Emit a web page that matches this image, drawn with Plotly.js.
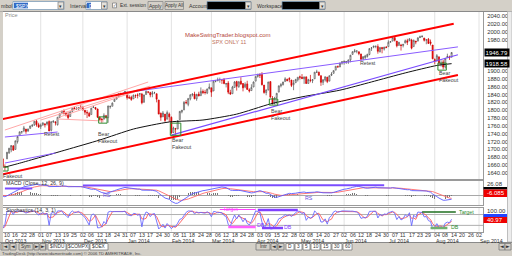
<!DOCTYPE html>
<html><head><meta charset="utf-8">
<script src="https://cdn.plot.ly/plotly-3.0.1.min.js"></script>
<style>html,body{margin:0;padding:0;background:#fff;overflow:hidden}#c{width:512px;height:256px}</style>
</head><body><div id="c"></div><script>
// ---------- DATA ----------
const dates = [
'2013-10-07','2013-10-08','2013-10-09','2013-10-10','2013-10-11','2013-10-14','2013-10-15','2013-10-16','2013-10-17','2013-10-18','2013-10-21','2013-10-22','2013-10-23','2013-10-24','2013-10-25','2013-10-28','2013-10-29','2013-10-30','2013-10-31',
'2013-11-01','2013-11-04','2013-11-05','2013-11-06','2013-11-07','2013-11-08','2013-11-11','2013-11-12','2013-11-13','2013-11-14','2013-11-15','2013-11-18','2013-11-19','2013-11-20','2013-11-21','2013-11-22','2013-11-25','2013-11-26','2013-11-27','2013-11-29',
'2013-12-02','2013-12-03','2013-12-04','2013-12-05','2013-12-06','2013-12-09','2013-12-10','2013-12-11','2013-12-12','2013-12-13','2013-12-16','2013-12-17','2013-12-18','2013-12-19','2013-12-20','2013-12-23','2013-12-24','2013-12-26','2013-12-27','2013-12-30','2013-12-31',
'2014-01-02','2014-01-03','2014-01-06','2014-01-07','2014-01-08','2014-01-09','2014-01-10','2014-01-13','2014-01-14','2014-01-15','2014-01-16','2014-01-17','2014-01-21','2014-01-22','2014-01-23','2014-01-24','2014-01-27','2014-01-28','2014-01-29','2014-01-30','2014-01-31',
'2014-02-03','2014-02-04','2014-02-05','2014-02-06','2014-02-07','2014-02-10','2014-02-11','2014-02-12','2014-02-13','2014-02-14','2014-02-18','2014-02-19','2014-02-20','2014-02-21','2014-02-24','2014-02-25','2014-02-26','2014-02-27','2014-02-28',
'2014-03-03','2014-03-04','2014-03-05','2014-03-06','2014-03-07','2014-03-10','2014-03-11','2014-03-12','2014-03-13','2014-03-14','2014-03-17','2014-03-18','2014-03-19','2014-03-20','2014-03-21','2014-03-24','2014-03-25','2014-03-26','2014-03-27','2014-03-28','2014-03-31',
'2014-04-01','2014-04-02','2014-04-03','2014-04-04','2014-04-07','2014-04-08','2014-04-09','2014-04-10','2014-04-11','2014-04-14','2014-04-15','2014-04-16','2014-04-17','2014-04-21','2014-04-22','2014-04-23','2014-04-24','2014-04-25','2014-04-28','2014-04-29','2014-04-30',
'2014-05-01','2014-05-02','2014-05-05','2014-05-06','2014-05-07','2014-05-08','2014-05-09','2014-05-12','2014-05-13','2014-05-14','2014-05-15','2014-05-16','2014-05-19','2014-05-20','2014-05-21','2014-05-22','2014-05-23','2014-05-27','2014-05-28','2014-05-29','2014-05-30',
'2014-06-02','2014-06-03','2014-06-04','2014-06-05','2014-06-06','2014-06-09','2014-06-10','2014-06-11','2014-06-12','2014-06-13','2014-06-16','2014-06-17','2014-06-18','2014-06-19','2014-06-20','2014-06-23','2014-06-24','2014-06-25','2014-06-26','2014-06-27','2014-06-30',
'2014-07-01','2014-07-02','2014-07-03','2014-07-07','2014-07-08','2014-07-09','2014-07-10','2014-07-11','2014-07-14','2014-07-15','2014-07-16','2014-07-17','2014-07-18','2014-07-21','2014-07-22','2014-07-23','2014-07-24','2014-07-25','2014-07-28','2014-07-29','2014-07-30','2014-07-31',
'2014-08-01','2014-08-04','2014-08-05','2014-08-06','2014-08-07','2014-08-08','2014-08-11','2014-08-12','2014-08-13',
'2014-08-14','2014-08-15','2014-08-18','2014-08-19','2014-08-20','2014-08-21','2014-08-22','2014-08-25','2014-08-26','2014-08-27','2014-08-28','2014-08-29','2014-09-02','2014-09-03','2014-09-04','2014-09-05'
];
const open = [
1687,1676,1656,1676,1691,1699,1709,1700,1720,1736,1745,1748,1752,1747,1754,1760,1763,1772,1763,
1758,1763,1765,1765,1771,1749,1770,1770,1763,1782,1791,1799,1792,1790,1784,1797,1806,1803,1803,1808,
1806,1800,1794,1792,1789,1807,1807,1803,1782,1777,1777,1786,1781,1809,1810,1822,1828,1834,1843,1841,1842,
1846,1833,1833,1829,1838,1839,1841,1841,1820,1840,1847,1845,1841,1845,1842,1826,1792,1783,1790,1777,1790,
1782,1743,1753,1752,1776,1796,1801,1820,1815,1829,1839,1841,1829,1841,1837,1848,1846,1844,1855,
1857,1849,1874,1875,1878,1877,1878,1866,1869,1845,1842,1858,1873,1860,1874,1868,1859,1867,1852,1850,1859,
1874,1886,1891,1891,1864,1845,1852,1873,1830,1818,1832,1846,1862,1865,1873,1879,1881,1877,1865,1870,1877,
1885,1884,1880,1885,1868,1877,1875,1880,1897,1897,1888,1871,1877,1884,1874,1889,1894,1902,1911,1910,1920,
1924,1923,1923,1928,1942,1949,1951,1949,1943,1931,1934,1937,1942,1958,1961,1963,1962,1949,1960,1956,1961,
1962,1973,1976,1985,1976,1965,1966,1965,1971,1977,1977,1979,1962,1976,1976,1985,1988,1984,1979,1981,1974,1966,
1929,1926,1936,1917,1923,1910,1934,1936,1935];
const high = [
1687,1676,1662,1693,1704,1711,1711,1722,1734,1745,1747,1760,1752,1753,1760,1764,1772,1775,1768,
1766,1768,1767,1771,1774,1771,1774,1772,1782,1791,1798,1802,1796,1795,1797,1805,1808,1808,1808,1814,
1811,1800,1800,1796,1806,1811,1808,1804,1783,1780,1792,1788,1811,1811,1820,1830,1834,1843,1844,1843,1849,
1846,1838,1837,1840,1840,1843,1843,1844,1839,1850,1847,1847,1849,1847,1842,1826,1794,1798,1790,1799,1794,
1784,1758,1755,1774,1798,1800,1823,1826,1830,1841,1843,1847,1842,1847,1858,1853,1852,1855,1868,
1857,1876,1877,1883,1883,1878,1882,1868,1874,1852,1862,1874,1875,1874,1884,1869,1871,1875,1856,1866,1873,
1886,1893,1894,1897,1864,1852,1872,1873,1836,1834,1844,1863,1869,1872,1884,1880,1884,1877,1877,1880,1884,
1888,1892,1885,1885,1880,1890,1879,1897,1903,1898,1888,1878,1886,1885,1888,1897,1901,1912,1914,1921,1924,
1925,1925,1929,1941,1950,1956,1951,1949,1944,1938,1941,1944,1958,1960,1964,1963,1968,1960,1960,1961,1963,
1978,1976,1986,1985,1976,1974,1969,1968,1980,1982,1983,1982,1980,1976,1986,1990,1991,1984,1981,1984,1980,1966,
1932,1943,1936,1927,1928,1932,1944,1939,1948];
const low = [
1675,1655,1646,1676,1689,1693,1697,1700,1715,1735,1740,1744,1740,1745,1752,1757,1760,1758,1755,
1752,1760,1756,1761,1747,1746,1768,1761,1761,1780,1790,1789,1784,1777,1783,1795,1800,1801,1801,1805,
1799,1788,1780,1783,1789,1806,1801,1780,1773,1768,1777,1779,1768,1804,1810,1822,1828,1834,1838,1838,1842,
1827,1829,1824,1829,1831,1830,1834,1815,1820,1840,1843,1833,1833,1841,1820,1790,1773,1783,1770,1777,1770,
1740,1743,1737,1752,1776,1792,1800,1815,1810,1825,1835,1828,1824,1836,1837,1841,1840,1841,1853,
1834,1849,1871,1874,1870,1867,1866,1858,1841,1839,1842,1858,1850,1857,1864,1848,1856,1852,1845,1850,1859,
1874,1883,1882,1863,1842,1838,1850,1833,1815,1815,1816,1846,1858,1863,1873,1874,1871,1859,1851,1870,1873,
1878,1879,1867,1867,1868,1871,1869,1880,1895,1888,1862,1864,1873,1869,1874,1887,1893,1902,1909,1910,1916,
1916,1918,1918,1922,1942,1947,1945,1940,1926,1927,1930,1934,1940,1951,1958,1958,1944,1947,1945,1952,1958,
1962,1972,1976,1975,1960,1965,1952,1960,1971,1966,1976,1955,1962,1968,1976,1984,1985,1975,1968,1969,1965,1930,
1917,1924,1914,1911,1904,1906,1934,1928,1935];
const close = [
1676,1656,1656,1693,1703,1710,1698,1722,1733,1745,1745,1755,1746,1752,1760,1762,1772,1763,1757,
1762,1768,1763,1770,1747,1771,1772,1768,1782,1791,1798,1792,1788,1781,1796,1805,1802,1803,1807,1806,
1801,1795,1793,1785,1805,1808,1803,1782,1776,1775,1787,1781,1811,1810,1818,1828,1833,1842,1841,1841,1848,
1832,1831,1827,1838,1837,1838,1842,1819,1839,1848,1846,1839,1844,1845,1828,1790,1782,1793,1774,1794,1783,
1742,1755,1752,1773,1797,1800,1820,1819,1830,1839,1841,1829,1840,1836,1848,1845,1845,1854,1859,
1846,1874,1874,1877,1878,1877,1868,1868,1846,1841,1859,1872,1861,1872,1867,1857,1866,1853,1849,1858,1872,
1886,1891,1889,1865,1845,1852,1872,1833,1816,1831,1843,1862,1865,1872,1880,1875,1879,1863,1869,1878,1884,
1884,1881,1885,1868,1878,1876,1878,1897,1897,1889,1871,1878,1885,1873,1888,1892,1901,1912,1910,1920,1924,
1925,1924,1928,1940,1949,1951,1951,1944,1930,1936,1938,1942,1957,1959,1963,1963,1950,1960,1957,1961,1960,
1973,1975,1985,1978,1964,1973,1965,1968,1977,1973,1982,1958,1978,1974,1984,1987,1988,1978,1979,1970,1970,1931,
1925,1939,1920,1920,1910,1932,1937,1934,1947];
// moving average (black line)
const maDates = ['2013-10-09','2013-10-18','2013-11-19','2013-12-12','2014-01-07','2014-01-31','2014-02-25','2014-03-19','2014-04-10','2014-05-02','2014-05-29','2014-06-19','2014-07-14','2014-08-04','2014-08-13'];
const maValues = [1655,1665,1699,1724,1752,1770,1775,1790,1816,1834,1851,1872,1895,1914,1918.58];
// drawn trend lines: [date0, price0, date1, price1]
const redTop = ['2013-10-08',1777.5,'2014-08-14',2020];
const redBottom = ['2013-10-07',1635.3,'2014-08-18',1889.7];
const purpleTop = ['2013-12-30',1843.8,'2014-08-18',1961.3];
const purpleBottom = ['2014-02-03',1736.3,'2014-08-18',1941.2];
const purpleLow1 = ['2013-10-09',1665.4,'2013-11-12',1691];
const purpleLow2 = ['2013-10-09',1731.7,'2013-11-13',1744.4];
const pinkA = ['2013-10-09',1749.5,'2014-01-16',1871.8];
const pinkB = ['2013-11-01',1775,'2014-01-17',1861.6];
const pinkC = ['2013-11-14',1782.7,'2014-01-15',1856.5];
const pinkD = ['2013-11-13',1777.6,'2013-12-16',1772.5];
// green boxes: [date0, date1, low, high]
const box1 = ['2013-10-08','2013-10-10',1645,1655];
const box2 = ['2013-12-12','2013-12-17',1767,1783];
const box3 = ['2014-02-03','2014-02-07',1736,1767];
const box4 = ['2014-04-10','2014-04-15',1813,1828.5];
const box5 = ['2014-08-05','2014-08-08',1902,1920];
// labels: [date, price]
const bearLabels = [['2013-12-11',1749],['2014-02-03',1733],['2014-04-10',1807],['2014-08-05',1904]];
const retestLabels = [['2013-11-04',1739],['2014-06-11',1920]];
// indicator drawings: [date0, value0, date1, value1]
const macdMarkA = ['2013-10-09',14.4,'2013-10-28',14.4];
const macdMarkB = ['2013-12-02',20.6,'2014-06-27',21.2];
const rsLabels = [['2013-12-13',0.8],['2014-05-05',-4.4]];
const stMagentaTop = ['2014-03-07',108,'2014-04-01',108];
const stMagentaLow = ['2014-03-13',11,'2014-04-01',11];
const stPurpleTop = ['2014-04-02',105.6,'2014-04-30',105.6];
const stPurpleLow = ['2014-04-04',5.6,'2014-04-21',5.6];
const stGreenTop = ['2014-07-24',94.4,'2014-08-15',94.4];
const stGreenLow = ['2014-07-30',5.6,'2014-08-11',5.6];
// axis / value labels
const priceTicks = [1640,1660,1680,1700,1720,1740,1760,1780,1800,1820,1840,1860,1880,1900,1980,2000,2020,2040];
const lastPrice = 1946.79, maLast = 1918.58;
const macdTop = '26.08', macdLast = '-6.085', stochTop = '100.00', stochLast = '40.97';
const monthNames = ['Jan','Feb','Mar','Apr','May','Jun','Jul','Aug','Sep','Oct','Nov','Dec'];

// ---------- BUILD ----------
const F = 'Liberation Sans, Arial, sans-serif';
const idx = d => dates.indexOf(d);
const xs = close.map((_, i) => i);
const i0 = idx('2013-10-10');
const xr = [i0 - 1.9, i0 + 225.9];

// MACD(12,26,9) and Stochastics(14,3,1) from the close data
function ema(arr, p){const k=2/(p+1);const o=[];arr.forEach((v,i)=>o.push(i?o[i-1]+k*(v-o[i-1]):v));return o;}
const e12=ema(close,12), e26=ema(close,26);
const macd=close.map((_,i)=>e12[i]-e26[i]);
const sig=ema(macd,9);
const hist=macd.map((v,i)=>v-sig[i]);
const rawK=close.map((c,i)=>{const a=Math.max(0,i-13);const hh=Math.max(...high.slice(a,i+1));const ll=Math.min(...low.slice(a,i+1));return hh>ll?(c-ll)/(hh-ll)*100:50;});
const stD=rawK.map((_,i)=>{const a=Math.max(0,i-2);const s=rawK.slice(a,i+1);return s.reduce((p,q)=>p+q,0)/s.length;});

const W=512,H=256;
const px=x=>x/W, py=y=>1-y/H;
const shapes=[], ann=[];
function rect(x0,y0,x1,y1,fill,line){shapes.push({type:'rect',xref:'paper',yref:'paper',x0:px(x0),x1:px(x1),y0:py(y1),y1:py(y0),fillcolor:fill,line:{color:line||fill,width:line?0.8:0},layer:'above'});}
function hline(x0,x1,y,color){shapes.push({type:'line',xref:'paper',yref:'paper',x0:px(x0),x1:px(x1),y0:py(y),y1:py(y),line:{color,width:1},layer:'above'});}
function txt(x,y,s,o){o=o||{};ann.push({xref:'paper',yref:'paper',x:px(x),y:py(y),text:s,showarrow:false,xanchor:o.xa||'left',yanchor:'middle',font:{family:o.fam||F,size:o.size||6,color:o.color||'#333'},bgcolor:o.bg,borderpad:o.pad||0});}
function dline(a,color,width,xr_,yr_){shapes.push({type:'line',xref:xr_||'x',yref:yr_||'y',x0:idx(a[0]),y0:a[1],x1:idx(a[2]),y1:a[3],line:{color,width},layer:'above'});}
function dbox(b){shapes.push({type:'rect',xref:'x',yref:'y',x0:idx(b[0])-0.5,x1:idx(b[1])+0.5,y0:b[2],y1:b[3],line:{color:'#2e8b2e',width:1},fillcolor:'rgba(0,0,0,0)',layer:'above'});}
function dtxt(d,v,s,o){o=o||{};ann.push({xref:o.xref||'x',yref:o.yref||'y',x:idx(d)+(o.dx||0),y:v,text:s,showarrow:false,xanchor:'left',yanchor:o.ya||'middle',align:'left',font:{family:F,size:o.size||5.3,color:o.color||'#444'},borderpad:0});}

// month gridlines & month labels
const monthStarts=[];
dates.forEach((d,i)=>{if(i===0||d.slice(5,7)!==dates[i-1].slice(5,7))monthStarts.push(i);});
monthStarts.forEach(m=>{
  if(m>xr[0]){['y','y2','y3'].forEach((ya,k)=>shapes.push({type:'line',xref:['x','x2','x3'][k],yref:ya+' domain',x0:m,x1:m,y0:0,y1:1,line:{color:'#e2e2e2',width:1},layer:'below'}));}
  const d=dates[m];
  ann.push({xref:'x3',yref:'paper',x:Math.max(m,xr[0]+0.3),y:py(240.9),text:monthNames[+d.slice(5,7)-1]+' '+d.slice(0,4),showarrow:false,xanchor:'left',yanchor:'middle',font:{family:F,size:5.3,color:'#333'},borderpad:0});
});
// day tick labels (every 4th trading day)
for(let i=i0;i<dates.length && i<=xr[1];i+=4){
  ann.push({xref:'x3',yref:'paper',x:i,y:py(235),text:dates[i].slice(8,10),showarrow:false,xanchor:'center',yanchor:'middle',font:{family:F,size:5.3,color:'#333'},borderpad:0});
}

// trend lines
[pinkA,pinkB,pinkC,pinkD].forEach(a=>dline(a,'#ffa8a8',1));
dline(purpleLow1,'#8a5cff',1); dline(purpleLow2,'#8a5cff',1);
dline(purpleTop,'#8a5cff',1); dline(purpleBottom,'#7a4cff',1.2);
dline(redTop,'#ff0000',2); dline(redBottom,'#ff0000',2);
[box1,box2,box3,box4,box5].forEach(dbox);
bearLabels.forEach(l=>dtxt(l[0],l[1],'Bear<br>Fakeout',{ya:'top',dx:-0.4}));
retestLabels.forEach(l=>dtxt(l[0],l[1],'Retest'));
txt(2,175.5,'Fakeout',{size:5.3,color:'#444'});

// indicator drawings
dline(macdMarkA,'#7a4cff',2,'x2','y2'); dline(macdMarkB,'#7a4cff',2,'x2','y2');
rsLabels.forEach(l=>dtxt(l[0],l[1],'RS',{xref:'x2',yref:'y2',color:'#6a4cdf'}));
dline(stMagentaTop,'#ff40ff',1.2,'x3','y3'); dline(stMagentaLow,'#ff60ff',2.5,'x3','y3');
dline(stPurpleTop,'#8040ff',2.5,'x3','y3'); dline(stPurpleLow,'#8040ff',2.5,'x3','y3');
dline(stGreenTop,'#1f6f1f',1.5,'x3','y3'); dline(stGreenLow,'#70b070',2.5,'x3','y3');
dtxt('2014-03-10',112,'Target',{xref:'x3',yref:'y3',color:'#ff40ff'});
dtxt('2014-08-18',96,'Target',{xref:'x3',yref:'y3',color:'#2a8a2a'});
dtxt('2014-04-01',20,'DB',{xref:'x3',yref:'y3',color:'#8040ff'});
dtxt('2014-04-21',11,'DB',{xref:'x3',yref:'y3',color:'#8040ff'});
dtxt('2014-08-12',11,'DB',{xref:'x3',yref:'y3',color:'#2a8a2a'});
[80,20].forEach(v=>shapes.push({type:'line',xref:'x3 domain',yref:'y3',x0:0,x1:1,y0:v,y1:v,line:{color:'#b0b0b0',width:1},layer:'below'}));

// chart texts
txt(4,14.5,'Price',{color:'#8a8a8a',size:5.5});
txt(228,35,'MakeSwingTrader.blogspot.com',{xa:'center',color:'#b5473a',size:6});
txt(229,41.5,'SPX ONLY 11',{xa:'center',color:'#c0705a',size:5.5});
txt(5,183,'MACD (Close, 12, 26, 9)',{size:5.3,color:'#333'});
txt(5,209.5,'Stochastics (14, 3, 1)',{size:5.3,color:'#333'});

// right value boxes
ann.push({xref:'paper',yref:'y',x:px(483.5),y:lastPrice,text:lastPrice.toFixed(2),showarrow:false,xanchor:'left',yanchor:'middle',font:{family:F,size:6,color:'#fff'},bgcolor:'#000',borderpad:0.6});
ann.push({xref:'paper',yref:'y',x:px(483.5),y:maLast,text:maLast.toFixed(2),showarrow:false,xanchor:'left',yanchor:'middle',font:{family:F,size:6,color:'#fff'},bgcolor:'#000',borderpad:0.6});
txt(486,183.5,macdTop,{size:6,color:'#333'});
rect(483.5,187,507,189.5,'#000');
rect(483.5,189.5,507,197,'#ee0000');
txt(486,193.3,macdLast,{size:6,color:'#fff'});
txt(486,210.5,stochTop,{size:6,color:'#333'});
rect(483.5,214,507,217,'#2244ff');
rect(483.5,217,507,223,'#ee0000');
txt(486,220,stochLast,{size:6,color:'#fff'});

// window chrome: top toolbar
rect(0,0,512,11.5,'#d4d0c8'); hline(0,512,11.5,'#8a8a8a');
txt(0,5.5,'mbol',{size:5.3});
rect(13,1.5,64,9.5,'#ffffff','#7f9db9'); rect(14,2.7,28,8.3,'#316ac5');
txt(14.5,5.5,'$SPX',{size:5,color:'#fff'});
rect(58,2,63.5,9,'#e4e2dc','#8a8a8a'); txt(60.8,5.5,'▾',{xa:'center',size:5,fam:'DejaVu Sans'});
txt(68.5,5.5,'Interval',{size:5.2});
rect(86,1.5,107,9.5,'#ffffff','#7f9db9'); rect(87,2.7,91,8.3,'#316ac5'); txt(87.6,5.5,'D',{size:5,color:'#fff'});
rect(101.5,2,107,9,'#e4e2dc','#8a8a8a'); txt(104.3,5.5,'▾',{xa:'center',size:5,fam:'DejaVu Sans'});
rect(112.5,3,116.5,7.8,'#ffffff','#808080'); txt(114.5,5.4,'✓',{xa:'center',size:4.5,fam:'DejaVu Sans'});
txt(119,5.5,'Ext. session',{size:4.8});
rect(148,1.5,163,9.5,'#d4d0c8','#8a8a8a'); txt(155.5,5.5,'Apply',{xa:'center',size:5});
rect(165,1.5,183.5,9.5,'#d4d0c8','#8a8a8a'); txt(174.2,5.5,'Apply All',{xa:'center',size:4.8});
txt(188,5.5,'Account',{size:5.2});
rect(207,1.5,251,9.5,'#000000','#7f9db9'); rect(245.5,2,251,9,'#e4e2dc','#8a8a8a'); txt(248.3,5.5,'▾',{xa:'center',size:5,fam:'DejaVu Sans'});
txt(256,5.5,'Workspace',{size:5.2});
rect(282,1.5,325,9.5,'#000000','#7f9db9'); rect(319.5,2,325,9,'#e4e2dc','#8a8a8a'); txt(322.3,5.5,'▾',{xa:'center',size:5,fam:'DejaVu Sans'});
// side strips
rect(0,11.5,3,242,'#d4d0c8');
rect(507.5,11.5,512,242,'#ececec','#b0b0b0');
// bottom bar
rect(0,242.5,512,256,'#d4d0c8'); hline(0,512,242.5,'#8a8a8a');
function btn(x0,x1,s,fill){rect(x0,243.5,x1,250,fill||'#d4d0c8','#7a7a7a');txt((x0+x1)/2,246.8,s,{xa:'center',size:4.8,fam:(/[◄►]/.test(s)?'DejaVu Sans':F)});}
btn(1,9,'|◄'); btn(10,16,'◄'); btn(19,33,'Sym'); btn(34,39,'►'); btn(40,46,'►|');
btn(48,66,'$INDU','#ffffff'); btn(67,89,'$COMPX','#ffffff'); btn(90,108,'$OEX','#ffffff');
btn(256,270,'Intr'); btn(271,277,'◄'); btn(278,284,'►');
btn(286,294,'D','#ffffff'); btn(295,302,'3','#ffffff'); btn(303,310,'5','#ffffff'); btn(311,320,'10','#ffffff');
btn(321,331,'15','#ffffff'); btn(332,342,'30','#ffffff'); btn(343,352,'60','#ffffff');
btn(499,505,'◄'); btn(505,511,'►');
txt(1,253.5,'TradingDesk (http://www.tdameritrade.com) © 2006 TD AMERITRADE, Inc.',{size:4.2,color:'#444'});

const traces=[
 {type:'scatter',mode:'lines',x:maDates.map(idx),y:maValues,line:{color:'#111',width:1,shape:'spline',smoothing:0.6},xaxis:'x',yaxis:'y',hoverinfo:'skip'},
 {type:'candlestick',x:xs,open,high,low,close,xaxis:'x',yaxis:'y',whiskerwidth:0,
  increasing:{line:{color:'#555555',width:0.7},fillcolor:'#ffffff'},
  decreasing:{line:{color:'#cc0000',width:0.7},fillcolor:'#ff0000'},hoverinfo:'skip'},
 {type:'bar',x:xs,y:hist,marker:{color:'#777'},width:0.3,xaxis:'x2',yaxis:'y2',hoverinfo:'skip'},
 {type:'scatter',mode:'lines',x:xs,y:sig,line:{color:'#ff6a6a',width:0.9},xaxis:'x2',yaxis:'y2',hoverinfo:'skip'},
 {type:'scatter',mode:'lines',x:xs,y:macd,line:{color:'#5a5aff',width:0.9},xaxis:'x2',yaxis:'y2',hoverinfo:'skip'},
 {type:'scatter',mode:'lines',x:xs,y:stD,line:{color:'#ff5a5a',width:0.9},xaxis:'x3',yaxis:'y3',hoverinfo:'skip'},
 {type:'scatter',mode:'lines',x:xs,y:rawK,line:{color:'#6a6aff',width:0.9},xaxis:'x3',yaxis:'y3',hoverinfo:'skip'}
];
const xdom=[3/512,483/512];
const axBase={showgrid:false,zeroline:false,showline:true,mirror:true,linecolor:'#9a9a9a',linewidth:1,fixedrange:true};
const layout={
 width:512,height:256,margin:{l:0,r:0,t:0,b:0},paper_bgcolor:'#ffffff',plot_bgcolor:'#ffffff',showlegend:false,bargap:0,
 xaxis:Object.assign({},axBase,{domain:xdom,anchor:'y',range:xr,showticklabels:false,rangeslider:{visible:false}}),
 xaxis2:Object.assign({},axBase,{domain:xdom,anchor:'y2',range:xr,matches:'x',showticklabels:false}),
 xaxis3:Object.assign({},axBase,{domain:xdom,anchor:'y3',range:xr,matches:'x',showticklabels:false,ticks:''}),
 yaxis:Object.assign({},axBase,{domain:[1-179/256,1-12/256],range:[1624.7,2050.2],side:'right',anchor:'x',tickmode:'array',tickvals:priceTicks,ticktext:priceTicks.map(v=>v.toFixed(2)),ticks:'',ticklen:0,ticklabelstandoff:2,tickfont:{family:F,size:5.8,color:'#333'}}),
 yaxis2:Object.assign({},axBase,{domain:[1-205/256,1-181/256],range:[-20,30],side:'right',anchor:'x2',showticklabels:false,zeroline:true,zerolinecolor:'#a8a8a8',zerolinewidth:1}),
 yaxis3:Object.assign({},axBase,{domain:[1-231.5/256,1-207.5/256],range:[-14,119],side:'right',anchor:'x3',showticklabels:false}),
 shapes,annotations:ann
};
Plotly.newPlot('c',traces,layout,{staticPlot:true,displayModeBar:false});
</script></body></html>
